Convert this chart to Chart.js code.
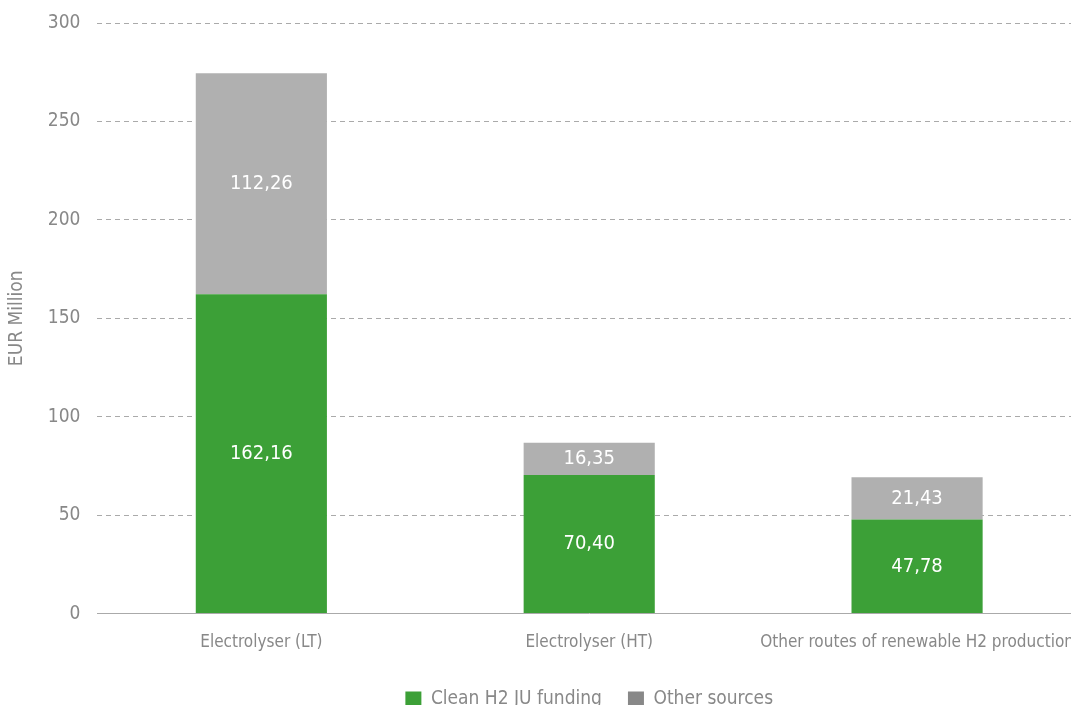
<!DOCTYPE html>
<html>
<head>
<meta charset="utf-8">
<script src="https://cdn.jsdelivr.net/npm/chart.js@4.4.0/dist/chart.umd.min.js"></script>
<style>
  body { margin: 0; overflow: hidden; background: #fff; }
  #wrap { position: absolute; left: 0; top: 0; }
</style>
</head>
<body>
<div id="wrap"><canvas id="fundChart" width="1086" height="719"></canvas></div>
<script>
const categories = ['Electrolyser (LT)', 'Electrolyser (HT)', 'Other routes of renewable H2 production']
const ju_funding = [162.16, 70.40, 47.78]
const other_sources = [112.26, 16.35, 21.43]
const y_ticks = [0, 50, 100, 150, 200, 250, 300]

const FONT = "'DejaVu Sans Condensed', 'Liberation Sans Narrow', 'Noto Sans', sans-serif"
const STRETCH = 'normal extra-condensed'
const GREEN = '#3ca037'
const GREY = '#b0b0b0'
const LEGEND_GREY = '#888888'

// values written inside every bar segment, decimal comma
const barLabels = {
    id: 'barLabels',
    afterDatasetsDraw(chart) {
        const ctx = chart.ctx
        ctx.save()
        ctx.fillStyle = '#ffffff'
        ctx.font = `${STRETCH} 20px ${FONT}`
        ctx.textAlign = 'center'
        ctx.textBaseline = 'middle'
        chart.data.datasets.forEach((ds, i) => {
            chart.getDatasetMeta(i).data.forEach((bar, j) => {
                let txt = ds.data[j].toFixed(2).replace('.', ',')
                ctx.fillText(txt, bar.x, (bar.y + bar.base) / 2)
            })
        })
        ctx.restore()
    }
}

const ctx = document.getElementById('fundChart').getContext('2d')

new Chart(ctx, {
    type: 'bar',
    data: {
        labels: categories,
        datasets: [
            { label: 'Clean H2 JU funding', data: ju_funding, backgroundColor: GREEN, legendColor: GREEN },
            { label: 'Other sources', data: other_sources, backgroundColor: GREY, legendColor: LEGEND_GREY }
        ]
    },
    options: {
        responsive: false,
        animation: false,
        layout: { padding: { left: 0, right: 5, top: 23, bottom: 0 } },
        datasets: { bar: { barPercentage: 0.4, categoryPercentage: 1 } },
        scales: {
            x: {
                stacked: true,
                grid: { display: false },
                border: { display: true, color: '#aaaaaa', width: 1 },
                ticks: { color: '#888888', font: { family: FONT, weight: STRETCH, size: 17 }, padding: 11, maxRotation: 0, autoSkip: false },
                // long last label may run past the plot edge
                afterFit: axis => {
                    axis.paddingLeft = 0
                    axis.paddingRight = 0
                }
            },
            y: {
                stacked: true,
                min: 0,
                max: 300,
                afterBuildTicks: axis => { axis.ticks = y_ticks.map(v => ({ value: v })) },
                afterFit: axis => {
                    axis.paddingTop = 0
                    axis.paddingBottom = 0
                },
                grid: {
                    color: ctx => ctx.tick.value === 0 ? 'rgba(0,0,0,0)' : '#aaaaaa',
                    drawTicks: false
                },
                border: { display: false, dash: [5, 4] },
                ticks: { color: '#888888', font: { family: FONT, weight: STRETCH, size: 19 }, padding: 17 },
                title: { display: true, text: 'EUR Million', color: '#888888', font: { family: FONT, weight: STRETCH, size: 19 }, padding: { top: 6, bottom: 2 } }
            }
        },
        plugins: {
            tooltip: { enabled: false },
            legend: {
                position: 'bottom',
                fullSize: false,
                labels: {
                    color: '#888888',
                    font: { family: FONT, weight: STRETCH, size: 19 },
                    boxWidth: 16,
                    boxHeight: 16,
                    padding: 26,
                    generateLabels: chart => chart.data.datasets.map((ds, i) => ({
                        text: ds.label,
                        fillStyle: ds.legendColor,
                        strokeStyle: ds.legendColor,
                        lineWidth: 0,
                        fontColor: '#888888',
                        datasetIndex: i
                    }))
                }
            }
        }
    },
    plugins: [barLabels]
})
</script>
</body>
</html>
